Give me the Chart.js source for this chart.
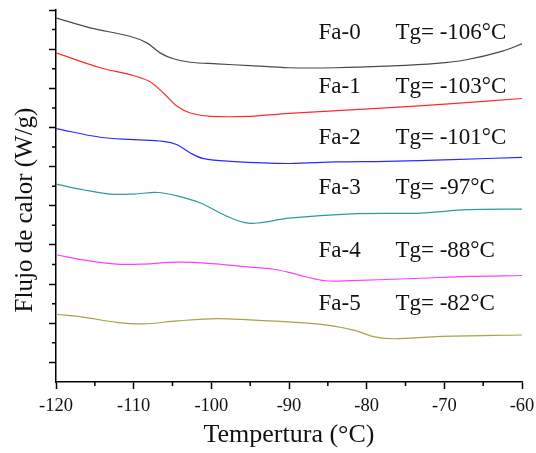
<!DOCTYPE html>
<html>
<head>
<meta charset="utf-8">
<script src="https://cdn.jsdelivr.net/npm/chart.js@4/dist/chart.umd.min.js"></script>
<style>
  html, body { margin: 0; padding: 0; background: #fff; }
  #wrap { width: 536px; height: 453px; }
</style>
</head>
<body>
<div id="wrap"><canvas id="dsc"></canvas></div>
<script>
// muestras y Tg
const samples = ["Fa-0", "Fa-1", "Fa-2", "Fa-3", "Fa-4", "Fa-5"];
const tgValues = [-106, -103, -101, -97, -88, -82];

// curvas DSC (temperatura en °C, flujo con desplazamiento vertical)
const fa0T = [-120, -115.6, -110.5, -108.3, -106.6, -104.9, -102.7, -99.3, -95, -90, -84, -77.5, -71, -67, -62.5, -60];
const fa0Y = [18.60, 18.09, 17.66, 17.32, 16.81, 16.51, 16.33, 16.25, 16.16, 16.05, 16.05, 16.13, 16.27, 16.47, 16.90, 17.27];

const fa1T = [-120, -114.3, -110.5, -108, -106.2, -104.4, -102.7, -100, -95, -90, -77.5, -69, -60];
const fa1Y = [16.81, 16.05, 15.70, 15.36, 14.77, 14.08, 13.74, 13.57, 13.57, 13.72, 14.00, 14.22, 14.48];

const fa2T = [-120, -114.3, -110, -106.2, -104.4, -102.7, -101, -97.5, -90, -84, -77.5, -69, -60];
const fa2Y = [12.94, 12.50, 12.38, 12.29, 12.12, 11.70, 11.41, 11.27, 11.16, 11.24, 11.27, 11.36, 11.47];

const fa3T = [-120, -116.5, -113, -110, -107, -104.4, -101.4, -98.4, -95.8, -94, -90, -82, -73, -67, -60];
const fa3Y = [10.11, 9.82, 9.60, 9.60, 9.68, 9.51, 9.14, 8.54, 8.15, 8.12, 8.37, 8.59, 8.63, 8.80, 8.83];

const fa4T = [-120, -116.5, -112.2, -108.7, -104.4, -100, -95, -92, -90, -88, -85.3, -82, -73, -67, -60];
const fa4Y = [6.50, 6.24, 6.02, 6.02, 6.12, 6.05, 5.87, 5.76, 5.60, 5.39, 5.17, 5.18, 5.30, 5.39, 5.44];

const fa5T = [-120, -116.5, -112.2, -108.7, -104.4, -99.3, -95, -90, -85.3, -81.8, -78.8, -76.3, -71, -60];
const fa5Y = [3.46, 3.31, 3.05, 2.97, 3.12, 3.24, 3.17, 3.07, 2.92, 2.66, 2.29, 2.21, 2.32, 2.40];

// altura de las etiquetas (en unidades del eje y)
const labelY = [17.85, 15.09, 12.48, 9.92, 6.70, 3.99];

const xTicks = [-120, -110, -100, -90, -80, -70, -60];

const curveT = [fa0T, fa1T, fa2T, fa3T, fa4T, fa5T];
const curveY = [fa0Y, fa1Y, fa2Y, fa3Y, fa4Y, fa5Y];
const colors = ["#4a4a4a", "#ff2a2a", "#2a2aff", "#2e9a94", "#ff3cff", "#a8a248"];

const serif = "'Liberation Serif', 'Times New Roman', serif";

const datasets = samples.map((s, i) => ({
  label: s,
  data: curveT[i].map((t, j) => ({ x: t, y: curveY[i][j] })),
  borderColor: colors[i],
  borderWidth: 1.2,
  pointRadius: 0,
  fill: false,
  tension: 0.35
}));

// ticks menores, titulo y, etiquetas Tg
const extras = {
  id: "extras",
  afterDraw(chart) {
    const ctx = chart.ctx, xs = chart.scales.x, ys = chart.scales.y;
    ctx.save();
    ctx.strokeStyle = "#000";
    ctx.lineWidth = 1.5;
    ctx.beginPath();
    for (let v = -115; v < -60; v += 10) {
      const px = xs.getPixelForValue(v);
      ctx.moveTo(px, ys.bottom); ctx.lineTo(px, ys.bottom + 4);
    }
    for (let v = 2; v < 19; v += 2) {
      const py = ys.getPixelForValue(v);
      ctx.moveTo(xs.left, py); ctx.lineTo(xs.left - 4, py);
    }
    ctx.stroke();

    ctx.fillStyle = "#111";
    ctx.font = "23px " + serif;
    ctx.textBaseline = "middle";
    ctx.textAlign = "left";
    samples.forEach((s, i) => {
      const py = ys.getPixelForValue(labelY[i]);
      ctx.fillText(s, xs.getPixelForValue(-86.2), py);
      ctx.fillText("Tg= " + tgValues[i] + "°C", xs.getPixelForValue(-76.3), py);
    });

    ctx.translate(25, (ys.top + ys.bottom) / 2 + 14);
    ctx.rotate(-Math.PI / 2);
    ctx.textAlign = "center";
    ctx.font = "25px " + serif;
    ctx.fillText("Flujo de calor (W/g)", 0, 0);
    ctx.restore();
  }
};

new Chart(document.getElementById("dsc"), {
  type: "line",
  data: { datasets },
  options: {
    responsive: true,
    maintainAspectRatio: false,
    animation: false,
    devicePixelRatio: 1,
    layout: { padding: { top: 10, right: 14, left: 0, bottom: 0 } },
    plugins: { legend: { display: false }, tooltip: { enabled: false } },
    scales: {
      x: {
        type: "linear",
        min: -120, max: -60,
        afterBuildTicks: (sc) => { sc.ticks = xTicks.map(v => ({ value: v })); },
        afterFit: (sc) => { sc.height = 71; sc.paddingRight = 0; sc.paddingLeft = 0; },
        border: { display: true, color: "#000", width: 1.5 },
        grid: { drawOnChartArea: false, drawTicks: true, tickLength: 7, tickColor: "#000", tickWidth: 1.5 },
        ticks: { color: "#111", font: { family: serif, size: 18.5 }, padding: 6, maxRotation: 0 },
        title: { display: true, text: "Tempertura (°C)", color: "#111", font: { family: serif, size: 26 }, padding: { top: 0, bottom: 2 } }
      },
      y: {
        min: 0, max: 19,
        afterBuildTicks: (sc) => { sc.ticks = [1, 3, 5, 7, 9, 11, 13, 15, 17, 19].map(v => ({ value: v })); },
        afterFit: (sc) => { sc.width = 56; },
        border: { display: true, color: "#000", width: 1.5 },
        grid: { drawOnChartArea: false, drawTicks: true, tickLength: 7, tickColor: "#000", tickWidth: 1.5 },
        ticks: { display: false },
        title: { display: false, text: "Flujo de calor (W/g)" }
      }
    }
  },
  plugins: [extras]
});
</script>
</body>
</html>
